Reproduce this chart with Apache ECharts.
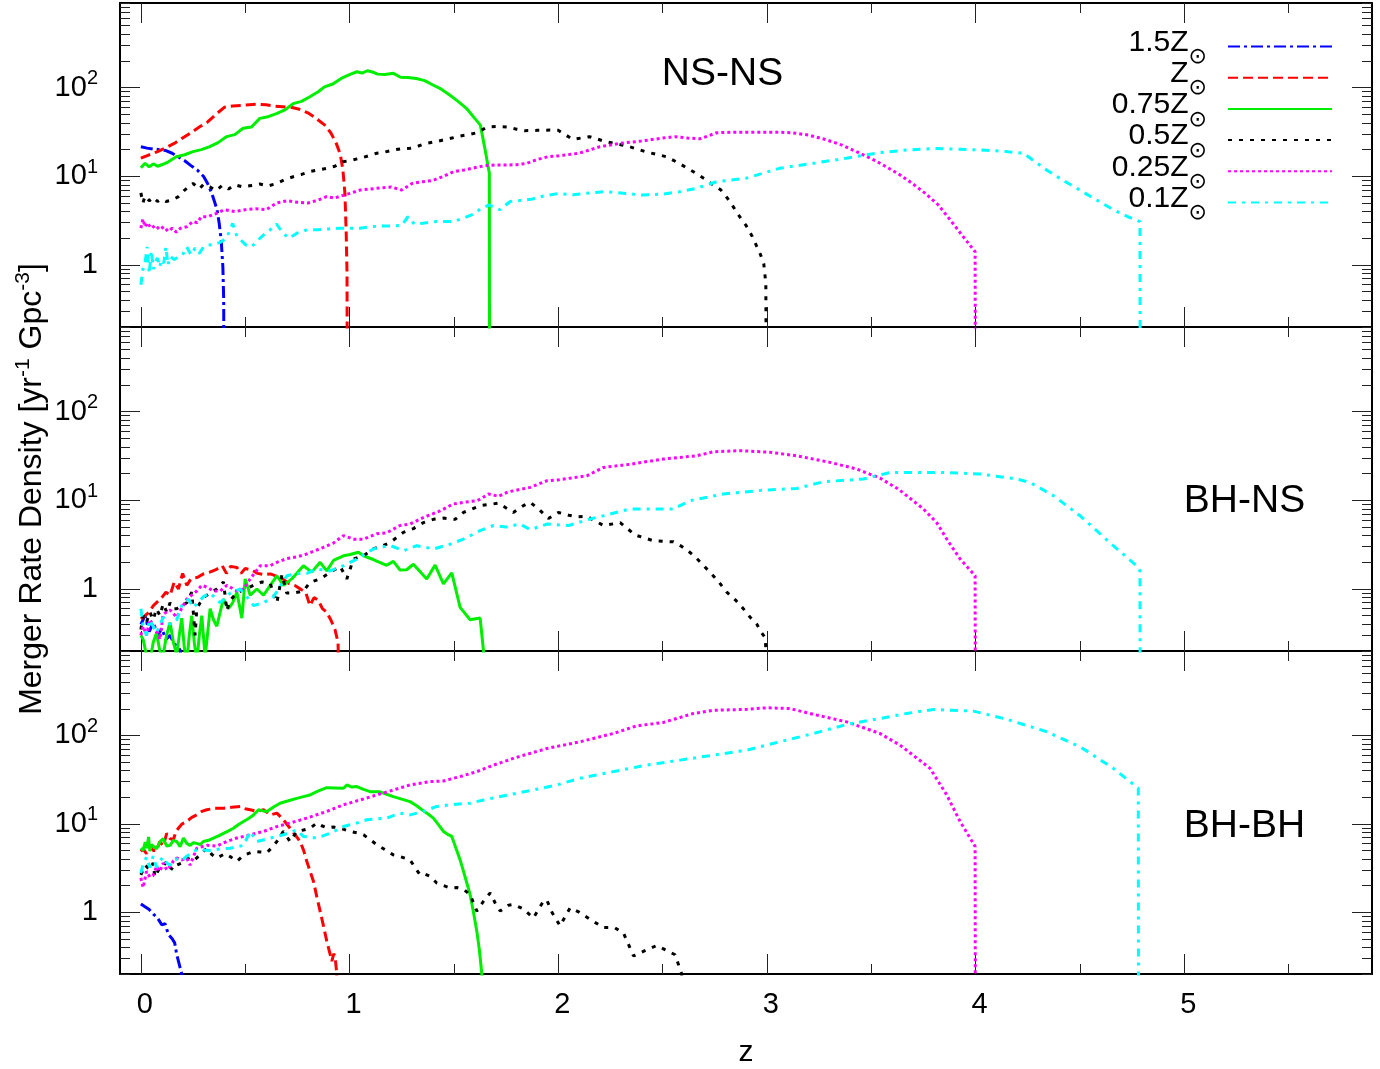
<!DOCTYPE html>
<html>
<head>
<meta charset="utf-8">
<script src="https://cdn.jsdelivr.net/npm/echarts@6.0.0/dist/echarts.min.js"></script>
<style>html,body{margin:0;padding:0;background:#fff;}#chart{width:1380px;height:1069px;}</style>
</head>
<body>
<div id="chart"></div>
<script>
// ---------------- axis ranges / ticks ----------------
const xRange = [-0.1, 5.9];
const yRange = [0.2, 900];
const xMajorTicks = [0, 1, 2, 3, 4, 5];
const xMinorTicks = [0.5, 1.5, 2.5, 3.5, 4.5, 5.5];
const xTickLabels = ['0', '1', '2', '3', '4', '5'];
const yMajorTicks = [1, 10, 100];
const yMinorTicks = [0.2,0.3,0.4,0.5,0.6,0.7,0.8,0.9,2,3,4,5,6,7,8,9,20,30,40,50,60,70,80,90,200,300,400,500,600,700,800,900];
const yTickLabels = ['1', '10{sup|1}', '10{sup|2}'];
const metallicities = ['1.5Z', 'Z', '0.75Z', '0.5Z', '0.25Z', '0.1Z'];
const panelNames = ['NS-NS', 'BH-NS', 'BH-BH'];

// ---------------- NS-NS ----------------
const nsns_15 = [[0,21.5],[0.03,20.8],[0.06,20.3],[0.09,20],[0.12,19.5],[0.15,18.2],[0.18,16.5],[0.21,15],[0.24,13.2],[0.27,11.8],[0.30,10],[0.32,8.3],[0.34,6.4],[0.355,5.0],[0.365,4.2],[0.375,3.0],[0.385,1.9],[0.393,0.95],[0.397,0.4],[0.398,0.05]];
const nsns_10 = [[0,16],[0.04,17.5],[0.08,19],[0.12,21],[0.16,23.5],[0.2,27],[0.24,31],[0.28,36],[0.32,41],[0.36,50],[0.4,60],[0.44,62],[0.48,63],[0.52,64],[0.56,65],[0.6,64],[0.64,62],[0.68,61],[0.72,60],[0.76,57],[0.8,52],[0.84,45],[0.88,38],[0.91,31],[0.935,24],[0.955,18],[0.968,12],[0.978,6.4],[0.984,2.3],[0.988,0.8],[0.989,0.05]];
const nsns_075 = [[0,12.5],[0.02,14],[0.04,12.8],[0.06,13.8],[0.08,13],[0.1,13.5],[0.13,14.5],[0.17,16.6],[0.21,17.5],[0.25,19],[0.29,20],[0.33,21.6],[0.37,24],[0.41,28],[0.45,29.5],[0.49,34.8],[0.53,36],[0.57,45],[0.61,47],[0.65,51],[0.69,56],[0.73,66],[0.77,70],[0.81,79],[0.85,90],[0.88,102],[0.92,110],[0.96,127],[1.0,140],[1.035,151],[1.06,146],[1.085,155],[1.11,150],[1.135,142],[1.17,141],[1.21,145],[1.245,131],[1.28,130],[1.32,127],[1.36,120],[1.4,107],[1.44,96],[1.48,82.5],[1.52,70],[1.56,58.5],[1.6,45],[1.627,37.8],[1.65,19.8],[1.67,10.8],[1.671,0.05]];
const nsns_05 = [[0,6.5],[0.01,5.0],[0.02,6.0],[0.04,5.3],[0.06,5.8],[0.08,5.2],[0.1,5.5],[0.12,5.2],[0.15,5.4],[0.18,5.9],[0.21,7.0],[0.25,8.3],[0.28,7.2],[0.3,8.1],[0.33,7.6],[0.36,6.9],[0.39,7.9],[0.42,7.2],[0.45,8.0],[0.49,7.6],[0.53,7.9],[0.57,8.2],[0.61,7.8],[0.65,8.3],[0.69,9.2],[0.73,9.9],[0.77,10.5],[0.81,11.3],[0.85,11.8],[0.89,12.3],[0.93,13.0],[0.97,14.6],[1.01,15.2],[1.05,16.0],[1.09,17.0],[1.13,18.2],[1.17,18.8],[1.21,19.8],[1.25,20.5],[1.29,20.7],[1.33,22.0],[1.37,23.6],[1.41,24.5],[1.45,25.7],[1.49,27.0],[1.53,28.5],[1.57,29.5],[1.61,31.0],[1.66,36.0],[1.71,36.5],[1.76,36.0],[1.8,34.0],[1.84,32.7],[1.9,33.0],[1.96,33.2],[2.0,33.0],[2.07,26.1],[2.15,28.0],[2.23,24.5],[2.33,22.0],[2.42,18.9],[2.52,16.6],[2.58,14.0],[2.62,12.3],[2.67,10.5],[2.71,9.1],[2.75,7.8],[2.78,7.0],[2.81,5.7],[2.84,4.5],[2.87,3.5],[2.9,2.8],[2.93,2.1],[2.95,1.65],[2.97,1.3],[2.985,1.04],[2.995,0.62],[2.997,0.05]];
const nsns_025 = [[0,2.6],[0.01,3.3],[0.02,2.7],[0.03,3.0],[0.05,2.6],[0.07,2.8],[0.09,2.5],[0.11,2.7],[0.13,2.4],[0.15,2.6],[0.17,2.35],[0.19,2.6],[0.22,2.7],[0.25,3.1],[0.27,3.0],[0.29,3.5],[0.32,3.5],[0.36,3.8],[0.4,4.2],[0.45,4.0],[0.5,4.2],[0.55,4.3],[0.6,4.2],[0.65,5.0],[0.7,5.3],[0.75,5.1],[0.8,5.0],[0.85,5.4],[0.89,5.9],[0.93,5.7],[0.97,6.1],[1.01,6.5],[1.05,7.0],[1.1,7.2],[1.15,7.4],[1.2,7.6],[1.25,7.0],[1.3,8.3],[1.35,8.7],[1.4,9.0],[1.45,10.0],[1.5,11.3],[1.55,11.8],[1.6,12.5],[1.65,13.2],[1.7,13.4],[1.75,13.4],[1.8,13.5],[1.85,14.0],[1.9,15.5],[1.95,16.6],[2.0,17],[2.1,18.2],[2.2,21.6],[2.3,23.6],[2.4,25],[2.5,27],[2.56,28],[2.62,27],[2.68,26.5],[2.76,31],[2.85,31.5],[2.95,31.5],[3.05,31.5],[3.12,31],[3.2,29.2],[3.28,26],[3.36,22.5],[3.44,18.5],[3.52,15],[3.58,12.5],[3.64,10.3],[3.7,8.2],[3.76,6.4],[3.82,4.8],[3.88,3.2],[3.94,2.1],[3.998,1.41],[3.999,0.05]];
const nsns_01 = [[0,0.6],[0.01,0.9],[0.02,1.05],[0.03,1.6],[0.04,0.8],[0.05,1.45],[0.06,0.9],[0.07,1.1],[0.08,1.2],[0.09,0.95],[0.1,1.15],[0.11,1.05],[0.12,1.6],[0.13,1.0],[0.14,1.25],[0.16,1.15],[0.18,1.24],[0.2,1.3],[0.22,1.6],[0.24,1.3],[0.26,1.55],[0.28,1.35],[0.3,1.6],[0.32,1.68],[0.35,1.7],[0.38,1.8],[0.41,2.0],[0.44,2.95],[0.46,2.1],[0.48,1.9],[0.5,1.7],[0.53,1.6],[0.56,1.9],[0.59,2.2],[0.62,2.5],[0.65,2.9],[0.68,2.3],[0.71,2.0],[0.75,2.3],[0.8,2.5],[0.85,2.5],[0.9,2.55],[0.95,2.6],[1.0,2.6],[1.05,2.6],[1.1,2.7],[1.15,2.75],[1.2,2.75],[1.25,2.8],[1.28,3.5],[1.31,2.9],[1.35,2.95],[1.4,3.08],[1.45,3.1],[1.5,3.1],[1.55,3.4],[1.6,3.8],[1.63,4.35],[1.67,4.75],[1.72,4.2],[1.77,5.2],[1.87,5.5],[1.93,6.0],[2.0,6.4],[2.07,6.2],[2.15,6.5],[2.22,6.7],[2.3,6.5],[2.4,6.15],[2.5,6.3],[2.58,6.7],[2.66,7.3],[2.76,8.7],[2.9,9.5],[3.06,12.3],[3.22,14],[3.38,16],[3.54,18.5],[3.67,19.8],[3.8,20.6],[3.9,20.3],[4.02,19.8],[4.12,19.3],[4.23,18.2],[4.34,11.8],[4.42,9],[4.5,7.0],[4.58,5.4],[4.66,4.2],[4.73,3.5],[4.788,3.08],[4.789,0.05]];

// ---------------- BH-NS ----------------
const bhns_15 = [[0,0.4],[0.02,0.5],[0.04,0.33],[0.06,0.42],[0.08,0.3],[0.1,0.36],[0.12,0.27],[0.14,0.3],[0.16,0.24],[0.18,0.22],[0.19,0.2],[0.191,0.05]];
const bhns_10 = [[0,0.46],[0.02,0.5],[0.04,0.55],[0.06,0.65],[0.08,0.72],[0.1,0.8],[0.12,0.92],[0.14,0.85],[0.16,1.2],[0.18,1.0],[0.2,1.5],[0.22,1.1],[0.24,1.3],[0.27,1.35],[0.3,1.48],[0.33,1.55],[0.36,1.65],[0.39,1.83],[0.41,1.5],[0.43,1.8],[0.46,1.75],[0.48,1.5],[0.5,1.7],[0.53,1.65],[0.56,1.5],[0.59,1.45],[0.62,1.48],[0.65,1.4],[0.68,1.3],[0.71,1.15],[0.74,1.09],[0.77,0.98],[0.79,0.92],[0.81,0.65],[0.83,0.8],[0.85,0.75],[0.87,0.6],[0.89,0.55],[0.91,0.45],[0.93,0.35],[0.945,0.25],[0.95,0.05]];
const bhns_075 = [[0.0,0.3],[0.011,0.27],[0.027,0.18],[0.043,0.15],[0.059,0.25],[0.075,0.32],[0.091,0.2],[0.107,0.18],[0.123,0.3],[0.14,0.42],[0.156,0.25],[0.172,0.18],[0.184,0.3],[0.196,0.47],[0.208,0.22],[0.22,0.15],[0.232,0.3],[0.244,0.5],[0.256,0.25],[0.268,0.15],[0.28,0.3],[0.292,0.5],[0.308,0.17],[0.332,0.6],[0.348,0.45],[0.364,0.38],[0.38,0.55],[0.396,0.77],[0.42,0.6],[0.44,0.7],[0.46,0.92],[0.484,0.47],[0.5,1.3],[0.524,0.85],[0.556,1.0],[0.588,0.85],[0.62,1.1],[0.652,1.41],[0.683,1.1],[0.723,1.3],[0.779,1.83],[0.819,1.55],[0.859,2.0],[0.891,1.6],[0.923,2.1],[0.971,2.37],[1.003,2.45],[1.043,2.6],[1.067,2.37],[1.114,2.15],[1.178,1.85],[1.21,2.05],[1.242,1.64],[1.274,1.65],[1.306,1.9],[1.37,1.3],[1.41,1.86],[1.45,1.14],[1.49,1.52],[1.53,0.62],[1.578,0.45],[1.626,0.47],[1.642,0.2],[1.643,0.05]];
const bhns_05 = [[0,0.35],[0.011,0.5],[0.027,0.42],[0.043,0.55],[0.059,0.45],[0.075,0.6],[0.091,0.5],[0.107,0.68],[0.124,0.55],[0.14,0.7],[0.156,0.6],[0.172,0.6],[0.196,0.65],[0.22,0.7],[0.244,0.92],[0.26,0.3],[0.268,0.6],[0.284,0.7],[0.3,0.8],[0.332,0.9],[0.364,1.0],[0.396,1.2],[0.412,0.57],[0.428,0.75],[0.46,0.9],[0.5,1.0],[0.54,1.1],[0.58,1.2],[0.62,1.15],[0.652,0.7],[0.676,1.45],[0.699,0.9],[0.731,0.9],[0.779,0.95],[0.811,1.19],[0.859,1.3],[0.907,1.54],[0.955,1.8],[0.987,1.3],[1.019,2.18],[1.067,2.37],[1.114,2.83],[1.162,3.1],[1.195,3.35],[1.258,4.35],[1.306,4.8],[1.354,5.6],[1.402,6.1],[1.45,6.3],[1.506,6.1],[1.546,7.3],[1.626,8.7],[1.674,9.0],[1.714,9.3],[1.754,8.1],[1.785,7.3],[1.833,8.7],[1.866,9.5],[1.91,7.8],[1.953,6.25],[2.001,7.3],[2.05,6.8],[2.089,6.5],[2.137,6.6],[2.217,5.2],[2.297,5.6],[2.369,4.06],[2.456,3.5],[2.552,3.4],[2.592,3.02],[2.63,2.6],[2.664,2.21],[2.728,1.54],[2.77,1.2],[2.808,0.92],[2.85,0.75],[2.887,0.6],[2.92,0.48],[2.952,0.4],[2.975,0.32],[2.991,0.285],[2.995,0.22],[2.996,0.05]];
const bhns_025 = [[0,0.3],[0.011,0.38],[0.027,0.3],[0.043,0.45],[0.075,0.35],[0.091,0.27],[0.107,0.52],[0.14,0.58],[0.172,0.48],[0.22,0.77],[0.268,0.95],[0.292,1.1],[0.316,1.05],[0.348,0.95],[0.38,0.95],[0.412,1.1],[0.46,0.95],[0.492,1.0],[0.524,1.3],[0.572,1.83],[0.62,1.83],[0.652,2.0],[0.699,2.2],[0.747,2.3],[0.795,2.48],[0.875,2.95],[0.923,3.3],[0.971,4.0],[1.019,3.65],[1.067,3.65],[1.131,4.2],[1.178,4.3],[1.242,5.2],[1.29,5.4],[1.354,6.4],[1.434,7.6],[1.498,9.1],[1.546,9.5],[1.61,9.9],[1.626,10.3],[1.666,11.8],[1.714,11.1],[1.762,12.5],[1.785,12.8],[1.866,14],[1.945,16.6],[2.0,17],[2.137,18.9],[2.217,23.5],[2.345,25.5],[2.504,29.2],[2.664,31.8],[2.744,35.3],[2.872,36.3],[3.015,34.8],[3.143,31.8],[3.303,26.8],[3.431,22.5],[3.542,17.8],[3.63,13.4],[3.75,8.0],[3.814,5.6],[3.862,3.66],[3.926,2.18],[3.998,1.41],[3.999,0.05]];
const bhns_01 = [[0,0.6],[0.011,0.38],[0.027,0.3],[0.043,0.45],[0.075,0.32],[0.107,0.48],[0.14,0.4],[0.172,0.45],[0.196,0.65],[0.228,0.77],[0.252,0.62],[0.3,0.82],[0.332,0.9],[0.38,0.7],[0.428,0.9],[0.476,1.0],[0.508,0.82],[0.54,0.65],[0.588,0.7],[0.636,0.82],[0.7,1.41],[0.747,1.5],[0.795,1.5],[0.843,1.68],[0.907,1.6],[0.971,1.83],[1.035,2.18],[1.114,2.83],[1.194,3.1],[1.258,2.7],[1.322,3.08],[1.402,2.83],[1.482,3.2],[1.546,3.66],[1.626,4.55],[1.69,5.2],[1.75,5.0],[1.817,5.4],[1.866,4.66],[1.945,5.4],[2.05,5.2],[2.153,6.15],[2.217,6.7],[2.345,8.0],[2.552,8.0],[2.632,9.9],[2.792,11.8],[2.983,13.0],[3.143,13.6],[3.271,16.2],[3.463,17.4],[3.59,20.6],[3.862,20.6],[4.022,19.8],[4.197,17.4],[4.261,15.9],[4.373,11.3],[4.501,6.7],[4.66,3.08],[4.772,1.83],[4.788,1.6],[4.789,0.05]];

// ---------------- BH-BH ----------------
const bhbh_15 = [[0,1.24],[0.02,1.15],[0.04,1.07],[0.06,0.95],[0.08,0.86],[0.1,0.72],[0.116,0.74],[0.132,0.56],[0.15,0.5],[0.162,0.45],[0.172,0.33],[0.18,0.28],[0.188,0.236],[0.196,0.2],[0.2,0.05]];
const bhbh_10 = [[0,4.87],[0.011,5.2],[0.027,4.6],[0.043,5.6],[0.059,5.0],[0.075,5.0],[0.091,6.3],[0.107,5.6],[0.124,7.8],[0.14,6.8],[0.156,6.6],[0.168,8.2],[0.18,8.9],[0.196,9.9],[0.22,10.6],[0.244,11.8],[0.268,12.6],[0.292,13.8],[0.316,14.4],[0.356,15],[0.396,15],[0.436,15.4],[0.476,15.7],[0.5,14.8],[0.524,14.4],[0.556,13.8],[0.588,14.4],[0.62,12.6],[0.652,13.2],[0.683,11.1],[0.715,8.9],[0.74,7.5],[0.763,6.3],[0.78,5.0],[0.795,3.76],[0.811,2.9],[0.827,2.24],[0.843,1.5],[0.859,1.03],[0.875,0.7],[0.891,0.47],[0.905,0.35],[0.915,0.28],[0.925,0.34],[0.931,0.31],[0.939,0.2],[0.94,0.05]];
const bhbh_075 = [[0,5.3],[0.011,5.0],[0.021,6.2],[0.029,5.3],[0.037,7.1],[0.043,4.9],[0.051,5.8],[0.059,5.7],[0.075,5.2],[0.091,6.2],[0.107,6.8],[0.124,5.6],[0.14,5.7],[0.156,6.5],[0.172,6.3],[0.188,5.5],[0.204,6.9],[0.22,6.0],[0.236,5.7],[0.252,6.1],[0.268,6.0],[0.284,5.8],[0.3,6.3],[0.324,6.5],[0.348,6.9],[0.372,7.3],[0.396,7.8],[0.42,8.3],[0.444,8.9],[0.468,9.8],[0.492,10.6],[0.516,11.5],[0.54,12.6],[0.564,14.4],[0.584,14.0],[0.604,13.8],[0.636,15.5],[0.667,17.1],[0.707,18.2],[0.747,19.4],[0.779,20.3],[0.811,21.2],[0.851,23.5],[0.891,25.6],[0.931,25.4],[0.971,25.2],[0.987,27.5],[1.011,26],[1.035,26.4],[1.067,24.5],[1.099,23.1],[1.146,23],[1.178,21.6],[1.21,20.3],[1.25,19],[1.29,17.8],[1.322,16],[1.354,14],[1.378,12.8],[1.402,11.6],[1.426,9.8],[1.45,8.2],[1.47,7.6],[1.49,7.2],[1.51,5.3],[1.53,3.9],[1.554,2.5],[1.578,1.58],[1.594,1.0],[1.61,0.61],[1.622,0.38],[1.634,0.2],[1.636,0.05]];
const bhbh_05 = [[0,2.65],[0.021,3.4],[0.043,3.0],[0.059,3.6],[0.067,2.5],[0.091,3.2],[0.107,3.3],[0.124,3.76],[0.14,3.2],[0.156,3.0],[0.172,3.4],[0.196,3.6],[0.22,4.1],[0.252,3.8],[0.284,4.45],[0.316,5.3],[0.34,4.5],[0.364,4.1],[0.404,4.6],[0.432,4.2],[0.46,3.76],[0.492,4.4],[0.54,4.87],[0.572,4.8],[0.604,4.7],[0.628,5.4],[0.652,6.3],[0.683,8.2],[0.715,6.3],[0.747,8.2],[0.779,8.5],[0.811,8.9],[0.843,10.2],[0.867,9.5],[0.891,9.0],[0.923,9.2],[0.955,8.9],[1.003,8.2],[1.035,7.9],[1.067,7.5],[1.099,6.6],[1.131,5.8],[1.17,5.1],[1.21,4.45],[1.25,4.2],[1.29,3.9],[1.314,3.2],[1.338,2.65],[1.362,2.7],[1.386,2.55],[1.418,2.14],[1.45,2.0],[1.482,1.88],[1.514,1.9],[1.546,1.82],[1.578,1.58],[1.61,1.03],[1.642,1.33],[1.674,1.65],[1.698,1.27],[1.722,1.03],[1.762,1.2],[1.785,1.22],[1.83,1.1],[1.881,0.86],[1.929,1.33],[1.945,1.38],[1.97,1.0],[2.009,0.7],[2.057,1.12],[2.1,1.0],[2.153,0.83],[2.217,0.67],[2.27,0.67],[2.313,0.58],[2.361,0.32],[2.408,0.36],[2.472,0.42],[2.52,0.37],[2.56,0.33],[2.592,0.2],[2.6,0.05]];
const bhbh_025 = [[0,2.44],[0.011,1.9],[0.027,2.9],[0.043,2.5],[0.059,2.6],[0.075,3.3],[0.091,2.9],[0.107,3.6],[0.124,3.0],[0.14,3.3],[0.156,3.8],[0.172,4.1],[0.196,3.9],[0.22,4.1],[0.236,3.4],[0.268,5.3],[0.316,5.7],[0.364,5.6],[0.412,6.3],[0.46,6.9],[0.524,7.5],[0.588,8.2],[0.652,9.3],[0.715,10.2],[0.795,11.6],[0.891,13.8],[0.971,16.4],[1.051,18.6],[1.131,21.2],[1.21,24.1],[1.29,27.5],[1.386,30],[1.45,30.5],[1.53,34.2],[1.61,38.9],[1.69,46.1],[1.762,52.5],[1.785,55],[1.945,71],[2.105,84.7],[2.264,105],[2.376,128],[2.504,140],[2.648,177],[2.744,192],[2.904,197],[2.999,205],[3.111,201],[3.223,173],[3.383,142],[3.542,105],[3.638,77.6],[3.782,42.4],[3.862,21.2],[3.926,10.6],[3.998,5.55],[3.999,0.05]];
const bhbh_01 = [[0,2.77],[0.011,3.5],[0.027,4.2],[0.043,3.2],[0.059,4.3],[0.075,3.2],[0.091,3.8],[0.107,4.2],[0.124,3.6],[0.14,3.4],[0.156,3.9],[0.172,4.0],[0.196,3.8],[0.22,4.3],[0.268,5.1],[0.332,5.0],[0.38,5.2],[0.428,5.3],[0.492,5.7],[0.524,8.2],[0.556,6.3],[0.62,6.9],[0.683,7.5],[0.747,8.5],[0.779,7.2],[0.843,6.9],[0.907,7.8],[0.971,9.3],[1.035,10.2],[1.083,11.1],[1.131,11.4],[1.178,11.6],[1.242,13.2],[1.29,12.6],[1.354,13.8],[1.418,15.7],[1.482,16.4],[1.578,17.1],[1.642,18.6],[1.762,21.2],[1.881,24.1],[1.993,27.5],[2.105,32.7],[2.264,38.9],[2.424,46.1],[2.584,52.5],[2.744,59.8],[2.904,68.1],[3.063,84.7],[3.223,105],[3.383,133],[3.542,155],[3.67,177],[3.798,196],[3.99,188],[4.15,152],[4.341,110],[4.501,74.3],[4.66,42.4],[4.78,25.2],[4.781,0.05]];

const panelData = [
  [nsns_15, nsns_10, nsns_075, nsns_05, nsns_025, nsns_01],
  [bhns_15, bhns_10, bhns_075, bhns_05, bhns_025, bhns_01],
  [bhbh_15, bhbh_10, bhbh_075, bhbh_05, bhbh_025, bhbh_01]
];

// ---------------- styles ----------------
const FONT = 'Liberation Sans';
const lineStyles = [
  { color: '#0000ff', type: [12, 4, 3, 4] },
  { color: '#ff0000', type: [10, 5] },
  { color: '#00ee00', type: 'solid' },
  { color: '#000000', type: [4, 7] },
  { color: '#ff00ff', type: [3, 3] },
  { color: '#00ffff', type: [8, 6, 3, 6] }
];
const gridTops = [3, 327, 651];
const GRID_H = 324;
const tickStyle = { color: '#222', width: 1 };
const frameStyle = { color: '#000', width: 2 };
const lg = Math.log10;

const grids = [], xAxes = [], yAxes = [], series = [];
for (let p = 0; p < 3; p++) {
  grids.push({ left: 120, right: 8, top: gridTops[p], height: GRID_H });
  const xBase = { gridIndex: p, type: 'value', min: xRange[0], max: xRange[1], splitLine: { show: false } };
  xAxes.push(Object.assign({}, xBase, {
    position: 'bottom',
    axisLine: { show: true, onZero: false, lineStyle: frameStyle },
    axisTick: { show: true, inside: true, length: 20, customValues: xMajorTicks, lineStyle: tickStyle },
    axisLabel: p === 2 ? {
      show: true, customValues: xMajorTicks, margin: 16, padding: [0, 0, 0, 8],
      formatter: v => xTickLabels[Math.round(v)], fontSize: 29, fontFamily: FONT, color: '#000'
    } : { show: false },
    name: p === 2 ? 'z' : '', nameLocation: 'middle', nameGap: 64,
    nameTextStyle: { fontSize: 30, fontFamily: FONT, color: '#000' }
  }));
  xAxes.push(Object.assign({}, xBase, {
    position: 'bottom', axisLine: { show: false, onZero: false },
    axisTick: { show: true, inside: true, length: 10, customValues: xMinorTicks, lineStyle: tickStyle },
    axisLabel: { show: false }
  }));
  xAxes.push(Object.assign({}, xBase, {
    position: 'top', axisLine: { show: true, onZero: false, lineStyle: frameStyle },
    axisTick: { show: true, inside: true, length: 20, customValues: xMajorTicks, lineStyle: tickStyle },
    axisLabel: { show: false }
  }));
  xAxes.push(Object.assign({}, xBase, {
    position: 'top', axisLine: { show: false, onZero: false },
    axisTick: { show: true, inside: true, length: 10, customValues: xMinorTicks, lineStyle: tickStyle },
    axisLabel: { show: false }
  }));

  // data axis (log)
  yAxes.push({
    gridIndex: p, type: 'log', logBase: 10, min: yRange[0], max: yRange[1], position: 'left',
    axisLine: { show: true, onZero: false, lineStyle: frameStyle },
    axisTick: { show: false }, axisLabel: { show: false }, splitLine: { show: false },
    name: p === 1 ? 'Merger Rate Density [yr{sup|-1} Gpc{sup|-3}]' : '',
    nameLocation: 'middle', nameRotate: 90, nameGap: 69,
    nameTextStyle: { fontSize: 32, fontFamily: FONT, color: '#000',
      rich: { sup: { fontSize: 21, fontFamily: FONT, color: '#000', padding: [0, 0, 17, 0], verticalAlign: 'middle' } } }
  });
  const yBase = { gridIndex: p, type: 'value', min: lg(yRange[0]), max: lg(yRange[1]), splitLine: { show: false } };
  yAxes.push(Object.assign({}, yBase, {
    position: 'left', axisLine: { show: false, onZero: false },
    axisTick: { show: true, inside: true, length: 20, customValues: yMajorTicks.map(lg), lineStyle: tickStyle },
    axisLabel: {
      show: true, customValues: yMajorTicks.map(lg), margin: 22,
      formatter: v => yTickLabels[Math.round(v)],
      fontSize: 29, fontFamily: FONT, color: '#000',
      rich: { sup: { fontSize: 20, fontFamily: FONT, color: '#000', padding: [0, 0, 18, 0], verticalAlign: 'middle' } }
    }
  }));
  yAxes.push(Object.assign({}, yBase, {
    position: 'left', axisLine: { show: false, onZero: false },
    axisTick: { show: true, inside: true, length: 10, customValues: yMinorTicks.map(lg), lineStyle: tickStyle },
    axisLabel: { show: false }
  }));
  yAxes.push(Object.assign({}, yBase, {
    position: 'right', axisLine: { show: true, onZero: false, lineStyle: frameStyle },
    axisTick: { show: true, inside: true, length: 20, customValues: yMajorTicks.map(lg), lineStyle: tickStyle },
    axisLabel: { show: false }
  }));
  yAxes.push(Object.assign({}, yBase, {
    position: 'right', axisLine: { show: false, onZero: false },
    axisTick: { show: true, inside: true, length: 10, customValues: yMinorTicks.map(lg), lineStyle: tickStyle },
    axisLabel: { show: false }
  }));

  for (let k = 0; k < metallicities.length; k++) {
    series.push({
      type: 'line', name: metallicities[k],
      xAxisIndex: 4 * p, yAxisIndex: 5 * p,
      data: panelData[p][k],
      showSymbol: false, symbol: 'none', clip: true, animation: false,
      lineStyle: { color: lineStyles[k].color, width: 3, type: lineStyles[k].type },
      itemStyle: { color: lineStyles[k].color }
    });
  }
}

const legends = metallicities.map((name, k) => ({
  data: [name], orient: 'vertical', right: 47, top: 24.5 + 31.2 * k, align: 'right',
  padding: 0, itemWidth: 104, itemHeight: 14, selectedMode: false,
  itemStyle: { opacity: 0 },
  formatter: n => '{m|' + n + '}{s|\u2299}',
  textStyle: {
    color: '#000', fontFamily: FONT, fontSize: 30,
    rich: {
      m: { fontSize: 30, fontFamily: FONT, color: '#000', lineHeight: 30, padding: [0, 0, 8, 0], verticalAlign: 'middle' },
      s: { fontSize: 22, fontFamily: 'DejaVu Sans', color: '#000', lineHeight: 22, padding: [22, 16, 0, 0], verticalAlign: 'middle' }
    }
  }
}));

const panelLabelPos = [[722.5, 74], [1244.5, 501.5], [1244.5, 826.5]];
const graphics = panelNames.map((t, i) => ({
  type: 'text', x: panelLabelPos[i][0], y: panelLabelPos[i][1], z: 100,
  style: { text: t, fontSize: 39, fontFamily: FONT, fill: '#000', align: 'center', verticalAlign: 'middle', textAlign: 'center', textVerticalAlign: 'middle' }
}));

const chart = echarts.init(document.getElementById('chart'), null, { renderer: 'canvas' });
chart.setOption({
  backgroundColor: '#fff',
  animation: false,
  grid: grids,
  xAxis: xAxes,
  yAxis: yAxes,
  legend: legends,
  graphic: graphics,
  series: series
});
</script>
</body>
</html>
